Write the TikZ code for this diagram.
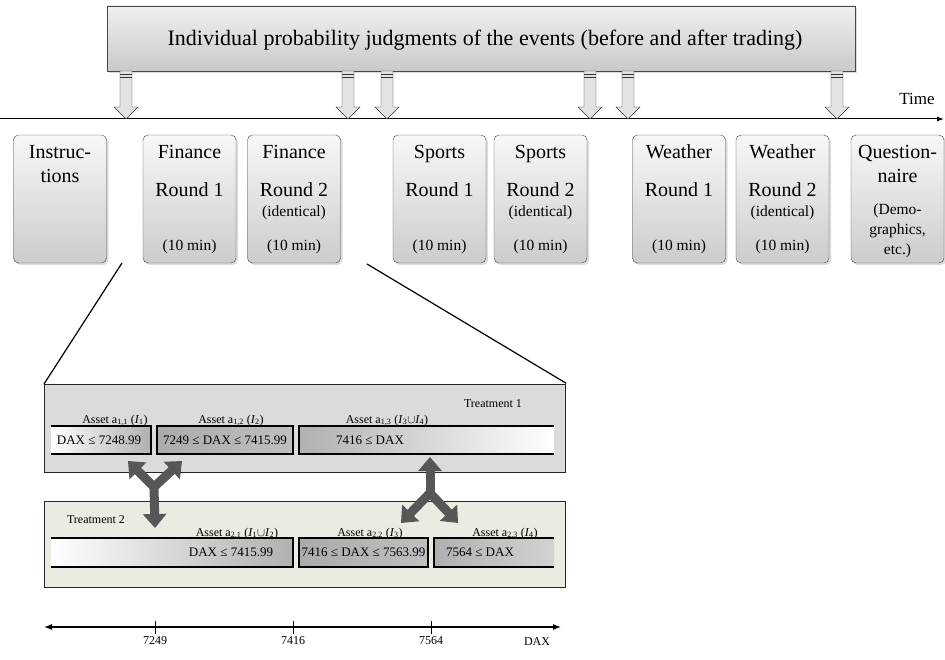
\documentclass[tikz,border=0pt]{standalone}
\usepackage{fontspec}
\setmainfont{Liberation Serif}
\usetikzlibrary{positioning,arrows.meta,shadows,calc}
\definecolor{beige}{RGB}{236,235,225}

\begin{document}
\begin{tikzpicture}[x=1pt,y=-1pt,
    phase/.style={draw=gray!55!black, rounded corners=5pt, top color=gray!6, bottom color=gray!40,
      minimum width=93pt, minimum height=128pt, inner sep=0pt,
      drop shadow={shadow xshift=2pt, shadow yshift=-2pt, fill=gray!55}},
    plbl/.style={anchor=base, inner sep=0pt, font=\fontsize{20}{22}\selectfont},
    slbl/.style={anchor=base, inner sep=0pt, font=\fontsize{15.5}{17}\selectfont},
    treat/.style={draw=gray!30!black, minimum width=521pt, inner sep=0pt},
    bar/.style={minimum height=28pt, inner sep=0pt},
    barline/.style={line width=1.8pt, black},
    bartxt/.style={inner sep=0pt, font=\fontsize{13}{15}\selectfont},
    asset/.style={anchor=base, inner sep=0pt, font=\fontsize{12}{14}\selectfont},
    bigarrow/.style={draw=gray!68!black, line width=9pt, line cap=round, -{Triangle[width=23pt,length=14pt]}},
    axlbl/.style={anchor=base, inner sep=0pt, font=\fontsize{12}{14}\selectfont}]
  \useasboundingbox (0,0) rectangle (945,660);

  % judgments box and time axis
  \node[draw=gray!55!black, top color=gray!12, bottom color=gray!42, minimum width=748pt, minimum height=65pt,
    drop shadow={shadow xshift=2pt, shadow yshift=-2pt, fill=gray!55}] (judge) at (481,38.5) {};
  \node[font=\fontsize{22}{24}\selectfont] at (485,40) {Individual probability judgments of the events (before and after trading)};
  \coordinate (t0) at (0,119);
  \coordinate (t1) at (944,119);
  \draw[line width=1pt, -{Latex[length=7pt,width=5pt]}] (t0) -- (t1);
  \node[font=\fontsize{17}{19}\selectfont] (time) at (917,99) {Time};
  \foreach \c in {126,348,387,590,628,837}{
    \filldraw[draw=gray!40!black, fill=gray!22] (\c-6,71) -- (\c+6,71) -- (\c+6,107) -- (\c+12,107)
      -- (\c,119) -- (\c-12,107) -- (\c-6,107) -- cycle;
    \draw[gray!40!black] (\c-6,74) -- (\c+6,74) (\c-6,77) -- (\c+6,77);
  }

  % phases
  \node[phase] (instr) at (60,199) {};
  \node[plbl] at (60,159) {Instruc-};
  \node[plbl] at (60,183) {tions};
  \foreach \nm/\cx/\ev/\rd in {fin1/189.5/Finance/1, fin2/294/Finance/2, sp1/439.5/Sports/1,
      sp2/540.5/Sports/2, we1/679/Weather/1, we2/782.5/Weather/2}{
    \node[phase] (\nm) at (\cx,199) {};
    \node[plbl] at (\cx,159) {\ev};
    \node[plbl] at (\cx,197) {Round \rd};
    \node[slbl] at (\cx,251) {(10 min)};
  }
  \foreach \cx in {294,540.5,782.5}
    \node[slbl] at (\cx,217) {(identical)};
  \node[phase] (quest) at (897.5,199) {};
  \node[plbl] at (897.5,159) {Question-};
  \node[plbl] at (897.5,183) {naire};
  \node[slbl] at (897.5,215) {(Demo-};
  \node[slbl] at (897.5,235) {graphics,};
  \node[slbl] at (897.5,255) {etc.)};

  % zoom lines
  \coordinate (z0) at (122,263);
  \coordinate (z1) at (367,264);
  \node[treat, fill=gray!28, minimum height=88pt] (tr1) at (304.5,428.5) {};
  \node[treat, fill=beige, minimum height=86pt] (tr2) at (304.5,544) {};
  \draw[line width=1.2pt] (z0) -- (tr1.north west);
  \draw[line width=1.2pt] (z1) -- ($(tr1.north east)+(1,-1)$);

  % treatment 1
  \node[asset] at (493,407) {Treatment 1};
  \node[bar, left color=white, right color=gray!62, minimum width=100pt] (a11) at (101,440) {};
  \node[bar, left color=gray!66, right color=gray!50, minimum width=136pt] (a12) at (225,440) {};
  \node[bar, left color=gray!62, right color=white, minimum width=255pt] (a13) at (426.5,440) {};
  \draw[barline] (a11.north west) -- (a11.north east) -- (a11.south east) -- (a11.south west);
  \draw[barline] (a12.north west) rectangle (a12.south east);
  \draw[barline] (a13.north east) -- (a13.north west) -- (a13.south west) -- (a13.south east);
  \node[bartxt] at (99,440) {DAX ≤ 7248.99};
  \node[bartxt] at (225,440) {7249 ≤ DAX ≤ 7415.99};
  \node[bartxt] at (370,440) {7416 ≤ DAX};
  \node[asset] at (115,423) {Asset a\textsubscript{1,1} (\textit{I}\textsubscript{1})};
  \node[asset] at (231,423) {Asset a\textsubscript{1,2} (\textit{I}\textsubscript{2})};
  \node[asset] at (387,423) {Asset a\textsubscript{1,3} (\textit{I}\textsubscript{3}$\cup$\textit{I}\textsubscript{4})};

  % treatment 2
  \node[asset] at (96,523) {Treatment 2};
  \node[bar, left color=white, right color=gray!62, minimum width=242pt, minimum height=29pt] (a21) at (172,552.5) {};
  \node[bar, left color=gray!66, right color=gray!50, minimum width=129pt, minimum height=29pt] (a22) at (363.5,552.5) {};
  \node[bar, left color=gray!62, right color=gray!35, minimum width=120pt, minimum height=29pt] (a23) at (494,552.5) {};
  \draw[barline] (a21.north west) -- (a21.north east) -- (a21.south east) -- (a21.south west);
  \draw[barline] (a22.north west) rectangle (a22.south east);
  \draw[barline] (a23.north east) -- (a23.north west) -- (a23.south west) -- (a23.south east);
  \node[bartxt] at (231,552.5) {DAX ≤ 7415.99};
  \node[bartxt] at (363.5,552.5) {7416 ≤ DAX ≤ 7563.99};
  \node[bartxt] at (480,552.5) {7564 ≤ DAX};
  \node[asset] at (237,536) {Asset a\textsubscript{2,1} (\textit{I}\textsubscript{1}$\cup$\textit{I}\textsubscript{2})};
  \node[asset] at (370,536) {Asset a\textsubscript{2,2} (\textit{I}\textsubscript{3})};
  \node[asset] at (505,536) {Asset a\textsubscript{2,3} (\textit{I}\textsubscript{4})};

  % trading arrows
  \coordinate (yj) at (154,487);
  \coordinate (yl) at (128,461);
  \coordinate (yr) at (182,461);
  \coordinate (yb) at (155,528);
  \draw[bigarrow] (yj) -- (yl);
  \draw[bigarrow] (yj) -- (yr);
  \draw[bigarrow] (yj) -- (yb);
  \coordinate (lj) at (430,493);
  \coordinate (lt) at (430,457);
  \coordinate (ll) at (401,523);
  \coordinate (lr) at (458,523);
  \draw[bigarrow] (lj) -- (lt);
  \draw[bigarrow] (lj) -- (ll);
  \draw[bigarrow] (lj) -- (lr);

  % DAX axis
  \coordinate (d0) at (44,627);
  \coordinate (d1) at (561,627);
  \draw[line width=1.1pt, {Latex[length=8pt,width=6pt]}-{Latex[length=8pt,width=6pt]}] (d0) -- (d1);
  \foreach \tx/\tv in {155/7249, 293/7416, 431/7564}{
    \draw[line width=0.8pt] (\tx,621) -- (\tx,634);
    \node[axlbl] at (\tx,644) {\tv};
  }
  \node[axlbl] (dax) at (537,645) {DAX};
\end{tikzpicture}
\end{document}
